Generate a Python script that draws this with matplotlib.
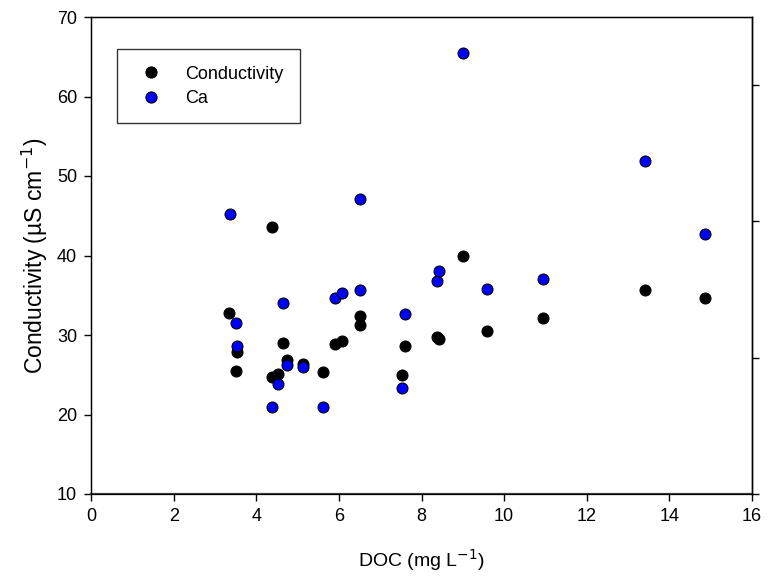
import matplotlib
matplotlib.use("Agg")
import matplotlib.pyplot as plt
from matplotlib.lines import Line2D

plt.rcParams['font.family'] = ['Liberation Sans', 'DejaVu Sans']

# DOC (mg/L) for each site, conductivity (uS/cm) on left axis
doc_cond = [3.35, 3.54, 3.50, 4.375, 4.375, 4.52, 4.64, 4.75, 5.13, 5.62, 5.91, 6.08,
            6.50, 6.52, 7.54, 7.60, 8.38, 8.43, 9.01, 9.58, 10.93, 13.41, 14.86]
conductivity = [32.8, 27.8, 25.5, 43.6, 24.7, 25.1, 29.0, 26.9, 26.3, 25.4, 28.9, 29.2,
                32.4, 31.2, 25.0, 28.6, 29.8, 29.5, 40.0, 30.5, 32.2, 35.7, 34.6]

# Ca on the (unlabelled) right axis
doc_ca = [3.37, 3.50, 3.54, 4.375, 4.52, 4.64, 4.75, 5.13, 5.62, 5.91, 6.08,
          6.50, 6.52, 7.54, 7.60, 8.38, 8.43, 9.01, 9.58, 10.93, 13.41, 14.86]
ca = [4.11, 2.51, 2.17, 1.27, 1.61, 2.80, 1.89, 1.86, 1.28, 2.87, 2.95,
      4.33, 3.00, 1.56, 2.64, 3.12, 3.27, 6.47, 3.01, 3.15, 4.89, 3.82]

fig = plt.figure(figsize=(7.68, 5.77), dpi=100)
ax = fig.add_axes([91/768, 1-494/577, (752-91)/768, (494-17)/577])

ax.scatter(doc_cond, conductivity, s=62, c='black', edgecolors='black', linewidths=0.8, zorder=3)
ax.set_xlim(0, 16)
ax.set_ylim(10, 70)
ax.set_xticks(range(0, 17, 2))
ax.set_yticks(range(10, 71, 10))
ax.tick_params(direction='out', length=5, width=1, labelsize=13, pad=5)
for s in ax.spines.values():
    s.set_linewidth(1)
ax.spines['bottom'].set_color('#404040')
ax.spines['bottom'].set_linewidth(1.6)
ax.set_xlabel('DOC (mg L$^{-1}$)', fontsize=14, labelpad=16)
ax.set_ylabel('Conductivity (µS cm$^{-1}$)', fontsize=16.5, labelpad=5)

ax2 = ax.twinx()
ax2.scatter(doc_ca, ca, s=62, c='#0000ff', edgecolors='black', linewidths=0.8, zorder=3)
ax2.set_ylim(0, 7)
ax2.set_yticks([0, 2, 4, 6])
ax2.tick_params(direction='out', length=5, width=1, labelright=False)
ax2.spines['right'].set_linewidth(1)

handles = [Line2D([], [], marker='o', ls='none', color='black', markersize=8, markeredgewidth=0.8),
           Line2D([], [], marker='o', ls='none', markerfacecolor='#0000ff', markeredgecolor='black',
                  markersize=8, markeredgewidth=0.8)]
leg = ax2.legend(handles, ['Conductivity', 'Ca'], loc='upper left',
                 bbox_to_anchor=(0.039, 0.932), fontsize=13, frameon=True, fancybox=False,
                 borderaxespad=0, handletextpad=0.9, labelspacing=0.4, borderpad=0.9)
leg.get_frame().set_edgecolor('black')
leg.get_frame().set_linewidth(1)

fig.savefig('out.png', dpi=100)
